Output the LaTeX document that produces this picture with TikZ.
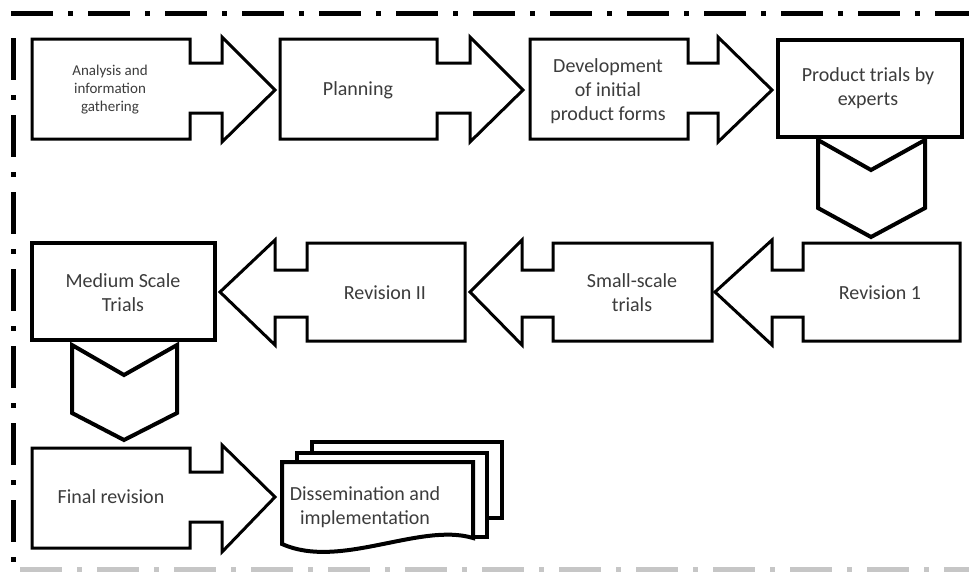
\documentclass[tikz,border=0pt]{standalone}
\usepackage{fontspec}
\setmainfont{Carlito}
\begin{document}
\begin{tikzpicture}[x=1pt,y=-1pt,
  shp/.style={draw=black,line width=3pt,line join=miter,fill=white},
  thick box/.style={draw=black,line width=4.2pt,fill=white},
  lbl/.style={text=txt,align=center,font=\fontsize{20}{24}\selectfont,inner sep=0pt},
  small lbl/.style={text=txt,align=center,font=\fontsize{15}{18}\selectfont,inner sep=0pt},
  border/.style={line width=5pt,dash pattern=on 42pt off 15pt on 5pt off 15pt}]
\definecolor{txt}{HTML}{3C3C3C}
\useasboundingbox (0,0) rectangle (969,571);
% frame
\draw[border] (11,13) -- (969,13);
\draw[border,dash phase=-12pt] (13,26) -- (13,571);
\draw[border,draw=gray!45] (20,569) -- (969,569);
% row 1
\draw[shp] (32,39) -- (190,39) -- (190,63) -- (222,63) -- (222,37) -- (275,90)
  -- (222,142) -- (222,113) -- (190,113) -- (190,139) -- (32,139) -- cycle;
\draw[shp] (280,39) -- (437,39) -- (437,63) -- (470,63) -- (470,37) -- (523,90)
  -- (470,142) -- (470,113) -- (437,113) -- (437,139) -- (280,139) -- cycle;
\draw[shp] (530,39) -- (688,39) -- (688,63) -- (718,63) -- (718,37) -- (772,90)
  -- (718,142) -- (718,113) -- (688,113) -- (688,139) -- (530,139) -- cycle;
\draw[thick box] (778,40) rectangle (962,137);
\draw[shp,line width=4pt] (818,140) -- (871,170) -- (925,140) -- (925,208) -- (871,237) -- (818,208) -- cycle;
% row 2
\draw[shp] (960,243) -- (803,243) -- (803,270) -- (772,270) -- (772,240) -- (715,292)
  -- (772,345) -- (772,317) -- (803,317) -- (803,341) -- (960,341) -- cycle;
\draw[shp] (712,243) -- (553,243) -- (553,270) -- (522,270) -- (522,240) -- (470,292)
  -- (522,345) -- (522,317) -- (553,317) -- (553,341) -- (712,341) -- cycle;
\draw[shp] (465,243) -- (307,243) -- (307,270) -- (275,270) -- (275,240) -- (220,292)
  -- (275,345) -- (275,317) -- (307,317) -- (307,341) -- (465,341) -- cycle;
\draw[thick box] (32,243) rectangle (215,340);
\draw[shp,line width=4pt] (72,345) -- (124,375) -- (177,345) -- (177,413) -- (124,440) -- (72,413) -- cycle;
% row 3
\draw[shp] (32,448) -- (190,448) -- (190,472) -- (222,472) -- (222,445) -- (275,497)
  -- (222,552) -- (222,522) -- (190,522) -- (190,548) -- (32,548) -- cycle;
% multidocument
\draw[shp,line width=4pt] (312,453) -- (312,442) -- (502,442) -- (502,518) -- (487,518);
\draw[shp,line width=4pt] (297,462) -- (297,453) -- (487,453) -- (487,537) -- (473,537);
\draw[shp,line width=4pt] (282,462) -- (473,462) -- (473,538)
  .. controls (420,522) and (340,570) .. (282,544) -- cycle;
% labels
\node[small lbl] (n1) at (110,90) {Analysis and\\information\\gathering};
\node[lbl] (n2) at (358,90) {Planning};
\node[lbl] (n3) at (608,91) {Development\\of initial\\product forms};
\node[lbl] (n4) at (868,88) {Product trials by\\experts};
\node[lbl] (n5) at (880,293) {Revision 1};
\node[lbl] (n6) at (632,293) {Small-scale\\trials};
\node[lbl] (n7) at (385,293) {Revision II};
\node[lbl] (n8) at (123,293) {Medium Scale\\Trials};
\node[lbl] (n9) at (111,497) {Final revision};
\node[lbl] (n10) at (365,507) {Dissemination and\\implementation};
\end{tikzpicture}
\end{document}
